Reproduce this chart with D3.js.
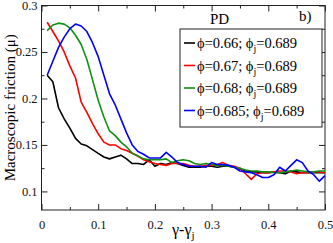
<!DOCTYPE html>
<html>
<head>
<meta charset="utf-8">
<script src="https://cdn.jsdelivr.net/npm/d3@7"></script>
<style>
  body { margin: 0; background: #fff; }
</style>
</head>
<body>
<div id="chart"></div>
<script>
// strain values gamma - gamma_j
const strain = d3.range(1, 51).map(i => i / 100);

const phi066 = [0.225,0.218,0.190,0.178,0.168,0.157,0.151,0.149,0.145,0.141,
                0.137,0.135,0.137,0.139,0.135,0.130,0.130,0.129,0.134,0.127,
                0.130,0.129,0.131,0.130,0.128,0.126,0.126,0.126,0.127,0.127,
                0.126,0.127,0.127,0.126,0.124,0.122,0.121,0.121,0.120,0.120,
                0.121,0.120,0.119,0.122,0.121,0.120,0.120,0.120,0.120,0.120];
const phi067 = [0.282,0.272,0.262,0.250,0.235,0.222,0.196,0.185,0.173,0.162,
                0.153,0.150,0.150,0.146,0.144,0.141,0.138,0.134,0.132,0.130,
                0.129,0.128,0.130,0.130,0.130,0.128,0.127,0.127,0.128,0.128,
                0.129,0.131,0.128,0.127,0.125,0.119,0.113,0.119,0.120,0.120,
                0.121,0.122,0.122,0.121,0.119,0.120,0.120,0.121,0.121,0.120];
const phi068 = [0.273,0.279,0.281,0.280,0.276,0.268,0.258,0.242,0.220,0.198,
                0.180,0.165,0.160,0.153,0.148,0.141,0.138,0.135,0.134,0.134,
                0.134,0.135,0.131,0.133,0.134,0.133,0.130,0.129,0.130,0.129,
                0.128,0.128,0.127,0.126,0.125,0.123,0.122,0.122,0.121,0.121,
                0.120,0.120,0.121,0.122,0.123,0.122,0.121,0.121,0.122,0.122];
const phi0685 = [0.225,0.240,0.255,0.266,0.275,0.280,0.278,0.272,0.260,0.245,
                 0.225,0.205,0.193,0.178,0.163,0.150,0.143,0.140,0.136,0.136,
                 0.136,0.142,0.137,0.131,0.129,0.127,0.127,0.127,0.126,0.131,
                 0.129,0.129,0.128,0.126,0.122,0.121,0.120,0.118,0.115,0.115,
                 0.118,0.126,0.122,0.128,0.134,0.131,0.122,0.118,0.111,0.117];

const seriesNames = ["0.66", "0.67", "0.68", "0.685"];
const seriesColors = ["#000000", "#ff0000", "#109010", "#0000ff"];
const seriesValues = [phi066, phi067, phi068, phi0685];

const xTicks = [0, 0.1, 0.2, 0.3, 0.4, 0.5];
const yTicks = [0.1, 0.15, 0.2, 0.25, 0.3];

const serif = "'Liberation Serif', 'Times New Roman', 'DejaVu Serif', serif";
const width = 333, height = 243;
const margin = { left: 41.5, right: 8, top: 5.5, bottom: 33 };

const svg = d3.select("#chart").append("svg")
  .attr("width", width)
  .attr("height", height)
  .attr("font-family", serif);

const x = d3.scaleLinear().domain([0, 0.5]).range([margin.left, width - margin.right]);
const y = d3.scaleLinear().domain([0.08, 0.3]).range([height - margin.bottom, margin.top]);

// frame
svg.append("rect")
  .attr("x", x(0)).attr("y", y(0.3))
  .attr("width", x(0.5) - x(0)).attr("height", y(0.08) - y(0.3))
  .attr("fill", "none").attr("stroke", "#222").attr("stroke-width", 1);

// ticks, inward on all four sides
const xMinor = d3.range(0.05, 0.5, 0.1);
const yMinor = d3.range(0.1, 0.3, 0.025).filter(v => !yTicks.some(t => Math.abs(t - v) < 1e-6));

function tickStyle(g) {
  g.attr("font-family", serif);
  g.select(".domain").remove();
  g.selectAll(".tick line").attr("stroke", "#222");
  g.selectAll(".tick text").attr("fill", "#111")
    .style("font-family", serif).style("font-size", "12.5px");
}

svg.append("g").attr("transform", `translate(0,${y(0.08)})`)
  .call(d3.axisBottom(x).tickValues(xTicks).tickSize(-6).tickPadding(10)
    .tickFormat(d => d === 0 ? "0" : d3.format(".1f")(d)))
  .call(tickStyle);
svg.append("g").attr("transform", `translate(0,${y(0.08)})`)
  .call(d3.axisBottom(x).tickValues(xMinor).tickSize(-3).tickFormat(""))
  .call(tickStyle);
svg.append("g").attr("transform", `translate(0,${y(0.3)})`)
  .call(d3.axisTop(x).tickValues(xTicks).tickSize(-6).tickFormat(""))
  .call(tickStyle);
svg.append("g").attr("transform", `translate(0,${y(0.3)})`)
  .call(d3.axisTop(x).tickValues(xMinor).tickSize(-3).tickFormat(""))
  .call(tickStyle);

svg.append("g").attr("transform", `translate(${x(0)},0)`)
  .call(d3.axisLeft(y).tickValues(yTicks).tickSize(-6).tickPadding(4)
    .tickFormat(d => String(+d.toFixed(2))))
  .call(tickStyle);
svg.append("g").attr("transform", `translate(${x(0)},0)`)
  .call(d3.axisLeft(y).tickValues(yMinor).tickSize(-3).tickFormat(""))
  .call(tickStyle);
svg.append("g").attr("transform", `translate(${x(0.5)},0)`)
  .call(d3.axisRight(y).tickValues(yTicks).tickSize(-6).tickFormat(""))
  .call(tickStyle);
svg.append("g").attr("transform", `translate(${x(0.5)},0)`)
  .call(d3.axisRight(y).tickValues(yMinor).tickSize(-3).tickFormat(""))
  .call(tickStyle);

// curves
const line = d3.line().x((d, i) => x(strain[i])).y(d => y(d));
svg.append("g").selectAll("path")
  .data(seriesValues)
  .join("path")
  .attr("d", line)
  .attr("fill", "none")
  .attr("stroke", (d, i) => seriesColors[i])
  .attr("stroke-width", 1.6)
  .attr("stroke-linejoin", "round");

// axis titles
svg.append("text")
  .attr("transform", `translate(15,${(y(0.08) + y(0.3)) / 2}) rotate(-90)`)
  .attr("text-anchor", "middle")
  .style("font-family", serif)
  .style("font-size", "15px")
  .text("Macroscopic friction (μ)");

const xl = svg.append("text")
  .attr("x", x(0.25)).attr("y", 235)
  .attr("text-anchor", "middle")
  .style("font-family", serif)
  .style("font-size", "16px");
xl.append("tspan").text("γ-γ");
xl.append("tspan").attr("dy", 4).style("font-size", "11px").text("j");

// annotations
svg.append("text").attr("x", 210).attr("y", 24)
  .style("font-family", serif).style("font-size", "15px").text("PD");
svg.append("text").attr("x", 299).attr("y", 21)
  .style("font-family", serif).style("font-size", "15px").text("b)");

// legend
const legend = svg.append("g");
legend.append("rect")
  .attr("x", 180).attr("y", 29).attr("width", 142).attr("height", 98)
  .attr("fill", "#fff").attr("stroke", "#222").attr("stroke-width", 1);

const rows = legend.selectAll("g.row")
  .data(seriesNames)
  .join("g")
  .attr("class", "row")
  .attr("transform", (d, i) => `translate(0,${43 + i * 22.5})`);

rows.append("line")
  .attr("x1", 184).attr("x2", 195)
  .attr("stroke", (d, i) => seriesColors[i])
  .attr("stroke-width", 1.6);

const label = rows.append("text")
  .attr("x", 197).attr("y", 5)
  .style("font-family", serif)
  .style("font-size", "14.5px");
label.append("tspan").text(d => `ϕ=${d}; ϕ`);
label.append("tspan").attr("dy", 4).style("font-size", "10px").text("j");
label.append("tspan").attr("dy", -4).text("=0.689");
</script>
</body>
</html>
